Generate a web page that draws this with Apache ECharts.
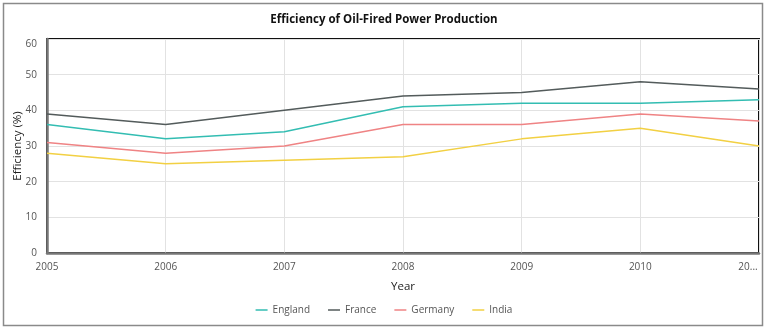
<!DOCTYPE html>
<html>
<head>
<meta charset="utf-8">
<script src="https://cdn.jsdelivr.net/npm/echarts@6/dist/echarts.min.js"></script>
<style>
  html, body { margin: 0; padding: 0; background: #fff; }
  #chart { width: 768px; height: 330px; }
</style>
</head>
<body>
<div id="chart"></div>
<script>
// Efficiency (%) of oil-fired power production by country, 2005-2011
const years = ['2005', '2006', '2007', '2008', '2009', '2010', '2011'];
const england = [36, 32, 34, 41, 42, 42, 43];
const france = [39, 36, 40, 44, 45, 48, 46];
const germany = [31, 28, 30, 36, 36, 39, 37];
const india = [28, 25, 26, 27, 32, 35, 30];
const yTicks = [0, 10, 20, 30, 40, 50, 60];

const FONT = '"Open Sans", "Noto Sans", sans-serif';
const chart = echarts.init(document.getElementById('chart'), null, { renderer: 'canvas' });

function lineSeries(name, data, color) {
  return {
    name, type: 'line', data,
    symbol: 'none', smooth: false,
    lineStyle: { color, width: 1.5 },
    itemStyle: { color },
    z: 3
  };
}

chart.setOption({
  backgroundColor: '#fff',
  animation: false,
  textStyle: { fontFamily: FONT },
  graphic: [{
    type: 'rect', silent: true, z: -1,
    shape: { x: 3.5, y: 3.5, width: 759, height: 322 },
    style: { fill: 'none', stroke: '#8a8a8a', lineWidth: 1.5 }
  }],
  title: {
    text: 'Efficiency of Oil-Fired Power Production',
    left: 'center', top: 9,
    textStyle: { fontFamily: FONT, fontSize: 11.5, fontWeight: 'bold', color: '#111' }
  },
  legend: {
    bottom: 10, left: 'center',
    icon: 'rect', itemWidth: 12, itemHeight: 1.5, itemGap: 18,
    textStyle: { fontFamily: FONT, fontSize: 10, color: '#555' },
    data: ['England', 'France', 'Germany', 'India']
  },
  grid: {
    left: 47, right: 9, top: 39, bottom: 77,
    outerBoundsMode: 'none', containLabel: false,
    show: true, borderColor: '#111', borderWidth: 2
  },
  xAxis: {
    type: 'category', data: years, boundaryGap: false,
    name: 'Year', nameLocation: 'middle', nameGap: 28,
    nameTextStyle: { fontFamily: FONT, fontSize: 11.5, color: '#222' },
    axisLine: { lineStyle: { color: '#777', width: 2.5 } },
    axisTick: { show: false },
    axisLabel: {
      fontFamily: FONT, fontSize: 10, color: '#555', margin: 9,
      formatter: (v, i) => i === years.length - 1 ? '{cut|' + v.slice(0, 2) + '...}' : v,
      rich: { cut: { fontFamily: FONT, fontSize: 10, color: '#555', padding: [0, 22, 0, 0] } }
    },
    splitLine: { show: true, lineStyle: { color: '#e2e2e2', width: 1 } }
  },
  yAxis: {
    type: 'value', min: yTicks[0], max: yTicks[yTicks.length - 1], interval: 10,
    name: 'Efficiency (%)', nameLocation: 'middle', nameGap: 23,
    nameMoveOverlap: false,
    nameTextStyle: { fontFamily: FONT, fontSize: 11.5, color: '#222' },
    axisLine: { show: true, lineStyle: { color: '#777', width: 2.5 } },
    axisTick: { show: false },
    axisLabel: {
      fontFamily: FONT, fontSize: 10, color: '#555', margin: 10,
      formatter: v => v === yTicks[yTicks.length - 1] ? '{top|' + v + '}' : String(v),
      rich: { top: { fontFamily: FONT, fontSize: 10, color: '#555', padding: [10, 0, 0, 0] } }
    },
    splitLine: { show: true, lineStyle: { color: '#e2e2e2', width: 1 } }
  },
  series: [
    lineSeries('England', england, '#33bdb2'),
    lineSeries('France', france, '#535b5b'),
    lineSeries('Germany', germany, '#ef8384'),
    lineSeries('India', india, '#f2d043')
  ]
});
</script>
</body>
</html>
